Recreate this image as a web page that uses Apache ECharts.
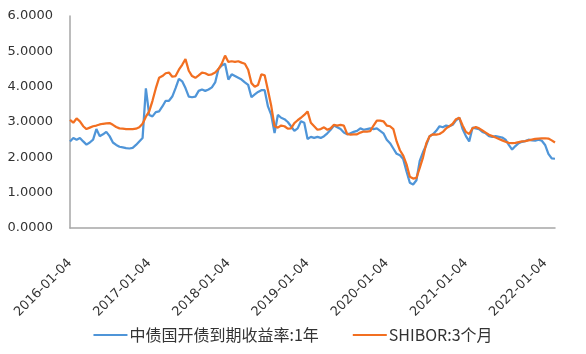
<!DOCTYPE html>
<html>
<head>
<meta charset="utf-8">
<script src="https://cdn.jsdelivr.net/npm/echarts@6/dist/echarts.min.js"></script>
<style>
  html, body { margin: 0; padding: 0; background: #fff; }
  #chart { width: 586px; height: 354px; }
</style>
</head>
<body>
<div id="chart"></div>
<script>
// 半月采样，2016-01-04 起
const seriesNames = ['中债国开债到期收益率:1年', 'SHIBOR:3个月'];
const yTicks = [0, 1, 2, 3, 4, 5, 6];

const cdbYield = [
  2.45, 2.55, 2.50, 2.55, 2.45, 2.36, 2.42, 2.50, 2.80, 2.60,
  2.65, 2.72, 2.60, 2.42, 2.35, 2.30, 2.28, 2.26, 2.25, 2.27,
  2.35, 2.45, 2.55, 3.95, 3.20, 3.16, 3.28, 3.30, 3.44, 3.60,
  3.60, 3.72, 3.96, 4.22, 4.15, 3.96, 3.72, 3.70, 3.72, 3.88,
  3.92, 3.88, 3.92, 3.98, 4.12, 4.50, 4.60, 4.65, 4.20, 4.35,
  4.30, 4.25, 4.20, 4.12, 4.05, 3.70, 3.78, 3.85, 3.90, 3.90,
  3.44, 3.20, 2.69, 3.20, 3.12, 3.08, 3.00, 2.88, 2.75, 2.82,
  3.02, 2.98, 2.52, 2.58, 2.55, 2.58, 2.55, 2.60, 2.68, 2.78,
  2.90, 2.85, 2.80, 2.70, 2.65, 2.68, 2.72, 2.75, 2.82, 2.78,
  2.80, 2.82, 2.80, 2.82, 2.75, 2.68, 2.50, 2.40, 2.25, 2.10,
  2.06, 1.95, 1.60, 1.28, 1.23, 1.35, 1.90, 2.15, 2.35, 2.60,
  2.65, 2.75, 2.88, 2.85, 2.90, 2.88, 2.92, 3.05, 3.12, 2.80,
  2.60, 2.45, 2.84, 2.82, 2.80, 2.72, 2.68, 2.60, 2.58, 2.60,
  2.58, 2.56, 2.50, 2.35, 2.22, 2.32, 2.40, 2.44, 2.46, 2.50,
  2.48, 2.47, 2.50, 2.47, 2.35, 2.10, 1.97, 1.96
];

const shibor3m = [
  3.06, 2.98, 3.10, 3.02, 2.88, 2.80, 2.84, 2.88, 2.90, 2.93,
  2.95, 2.96, 2.97, 2.92, 2.86, 2.82, 2.81, 2.80, 2.80, 2.80,
  2.81, 2.85, 2.95, 3.15, 3.30, 3.60, 3.95, 4.25, 4.30, 4.38,
  4.40, 4.28, 4.30, 4.48, 4.62, 4.78, 4.45, 4.30, 4.25, 4.32,
  4.40, 4.38, 4.33, 4.35, 4.40, 4.50, 4.65, 4.88, 4.70, 4.72,
  4.70, 4.72, 4.68, 4.65, 4.48, 4.10, 4.00, 4.05, 4.35, 4.32,
  3.90, 3.45, 2.88, 2.84, 2.90, 2.88, 2.81, 2.82, 2.97, 3.05,
  3.12, 3.20, 3.30, 2.98, 2.88, 2.78, 2.80, 2.85, 2.78, 2.82,
  2.92, 2.90, 2.92, 2.90, 2.66, 2.64, 2.65, 2.65, 2.70, 2.73,
  2.73, 2.74, 2.90, 3.04, 3.04, 3.02, 2.90, 2.88, 2.80, 2.45,
  2.20, 2.05, 1.80, 1.45, 1.40, 1.42, 1.70, 2.00, 2.40, 2.60,
  2.65, 2.64, 2.66, 2.72, 2.82, 2.88, 2.95, 3.08, 3.12, 2.90,
  2.72, 2.66, 2.82, 2.86, 2.82, 2.76, 2.70, 2.64, 2.60, 2.56,
  2.52, 2.48, 2.44, 2.41, 2.40, 2.41, 2.43, 2.45, 2.46, 2.48,
  2.50, 2.52, 2.53, 2.54, 2.54, 2.53, 2.48, 2.42
];

// 日期类目：每月 04 日和 19 日
const dates = [];
for (let y = 2016; y <= 2022; y++) {
  for (let m = 1; m <= 12; m++) {
    const mm = String(m).padStart(2, '0');
    dates.push(y + '-' + mm + '-04', y + '-' + mm + '-19');
  }
}
const categories = dates.slice(0, cdbYield.length);

const chart = echarts.init(document.getElementById('chart'));
chart.setOption({
  animation: false,
  grid: { left: 70, right: 31, top: 16, bottom: 126 },
  legend: {
    bottom: 6,
    left: 'center',
    icon: 'rect',
    itemWidth: 34,
    itemHeight: 2,
    itemGap: 34,
    textStyle: {
      fontFamily: 'Noto Sans CJK SC',
      fontSize: 16,
      color: '#333',
      padding: [0, 0, 0, -3]
    },
    data: seriesNames
  },
  xAxis: {
    type: 'category',
    data: categories,
    boundaryGap: false,
    axisLine: { lineStyle: { color: '#a6a6a6', width: 1.5 } },
    axisTick: { show: false },
    axisLabel: {
      interval: (i, v) => v.endsWith('-01-04'),
      rotate: 45,
      margin: 33,
      fontFamily: 'DejaVu Sans',
      fontSize: 13,
      color: '#333'
    }
  },
  yAxis: {
    type: 'value',
    min: yTicks[0],
    max: yTicks[yTicks.length - 1],
    interval: 1,
    axisLine: { show: true, lineStyle: { color: '#a6a6a6', width: 1.5 } },
    axisTick: { show: false },
    splitLine: { show: false },
    axisLabel: {
      margin: 17,
      formatter: v => v.toFixed(4),
      fontFamily: 'DejaVu Sans',
      fontSize: 13,
      color: '#333'
    }
  },
  series: [
    {
      name: seriesNames[0],
      type: 'line',
      data: cdbYield,
      showSymbol: false,
      lineStyle: { color: '#4f95d8', width: 2.25 },
      itemStyle: { color: '#4f95d8' }
    },
    {
      name: seriesNames[1],
      type: 'line',
      data: shibor3m,
      showSymbol: false,
      lineStyle: { color: '#f26f21', width: 2.25 },
      itemStyle: { color: '#f26f21' }
    }
  ]
});
</script>
</body>
</html>
